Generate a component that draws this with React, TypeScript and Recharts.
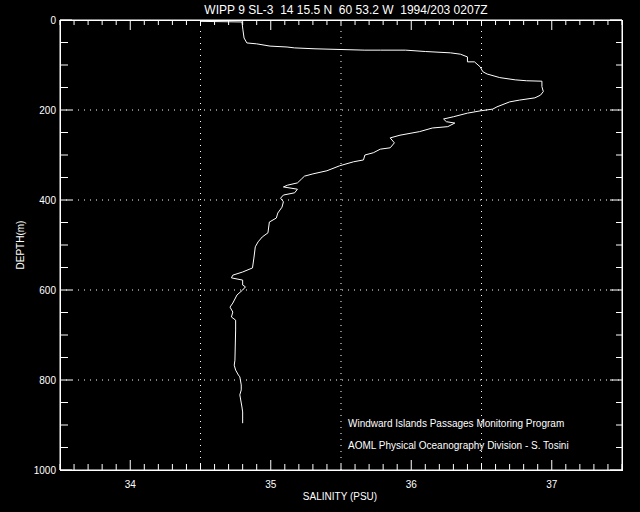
import React from 'react';
import {
  ScatterChart,
  Scatter,
  XAxis,
  YAxis,
  ReferenceLine,
} from 'recharts';

// CTD salinity profile
const salinity = [
  34.50, 34.795, 34.802, 34.81, 34.83, 34.90, 34.995, 35.116, 35.17, 35.315,
  35.67, 35.78, 35.96, 36.10, 36.28, 36.35, 36.40, 36.40, 36.45, 36.49,
  36.51, 36.54, 36.63, 36.74, 36.82, 36.93, 36.93, 36.94, 36.92, 36.88,
  36.77, 36.70, 36.61, 36.58, 36.49, 36.40, 36.30, 36.23, 36.25, 36.31,
  36.26, 36.15, 36.06, 35.92, 35.85, 35.88, 35.85, 35.78, 35.73, 35.67,
  35.66, 35.59, 35.49, 35.40, 35.30, 35.24, 35.22, 35.19, 35.12, 35.09,
  35.19, 35.17, 35.09, 35.07, 35.09, 35.08, 35.05, 35.04, 34.99, 34.98,
  34.94, 34.91, 34.89, 34.88, 34.87, 34.80, 34.73, 34.72, 34.80, 34.80,
  34.82, 34.80, 34.76, 34.73, 34.71, 34.73, 34.72, 34.75, 34.75, 34.745,
  34.74, 34.75, 34.77, 34.78, 34.79, 34.79, 34.78, 34.795, 34.80, 34.80,
];
const depth = [
  3, 4.4, 22, 40, 51, 53, 58, 60, 62, 64,
  67, 67, 67, 70, 73, 76, 82, 93, 93, 104,
  115, 120, 128, 133, 135, 136, 148, 159, 167, 173,
  178, 182, 193, 198, 202, 207, 215, 220, 226, 229,
  237, 240, 248, 256, 262, 273, 284, 287, 295, 300,
  311, 315, 324, 335, 342, 347, 353, 362, 367, 371,
  376, 384, 389, 396, 404, 416, 429, 440, 449, 473,
  482, 493, 504, 529, 551, 560, 567, 573, 578, 589,
  593, 600, 611, 629, 638, 649, 660, 667, 689, 756,
  767, 778, 789, 793, 811, 822, 833, 860, 871, 896,
];

const salTicks = Array.from({ length: 41 }, (_, i) => Math.round((33.5 + i * 0.1) * 10) / 10);
const salLabels = [34, 35, 36, 37];
const depthTicks = Array.from({ length: 21 }, (_, i) => i * 50);
const depthLabels = [0, 200, 400, 600, 800, 1000];
const salGrid = [34.5, 35.5, 36.5];
const depthGrid = [200, 400, 600, 800];

const profile = salinity.map((s, i) => ({ sal: s, depth: depth[i] }));

const FONT = '"Liberation Sans", Arial, sans-serif';
const WHITE = '#ffffff';
const SAL_DOMAIN = [33.5, 37.5];
const DEPTH_DOMAIN = [0, 1000];

// plot box: left 60, top 20, 562 x 450
const PLOT_X = 60;
const PLOT_Y = 20;
const PLOT_W = 562;
const PLOT_H = 450;

const isLabel = (list: number[], v: number) => list.some((l) => Math.abs(l - v) < 1e-6);

// bottom ticks also mirrored onto the top edge of the frame
const BottomTick = (props: any) => {
  const { x, y, payload } = props;
  const major = isLabel(salLabels, payload.value);
  const top = y - PLOT_H;
  return (
    <g>
      <line x1={x} y1={y} x2={x} y2={y - (major ? 10 : 6)} stroke={WHITE} />
      <line x1={x} y1={top} x2={x} y2={top + (major ? 10 : 5)} stroke={WHITE} />
      {major && (
        <text x={x} y={y + 18} fill={WHITE} textAnchor="middle" fontSize={10} fontFamily={FONT}>
          {payload.value}
        </text>
      )}
    </g>
  );
};

// left ticks also mirrored onto the right edge of the frame
const LeftTick = (props: any) => {
  const { x, y, payload } = props;
  const major = isLabel(depthLabels, payload.value);
  const right = x + PLOT_W;
  return (
    <g>
      <line x1={x} y1={y} x2={x + (major ? 12 : 8)} y2={y} stroke={WHITE} />
      <line x1={right} y1={y} x2={right - (major ? 12 : 6)} y2={y} stroke={WHITE} />
      {major && (
        <text x={x - 4} y={y + 4} fill={WHITE} textAnchor="end" fontSize={10} fontFamily={FONT}>
          {payload.value}
        </text>
      )}
    </g>
  );
};

const NoDot = () => <g />;

const layer: React.CSSProperties = { position: 'absolute', left: 0, top: 0 };

export default function App() {
  return (
    <div style={{ ...layer, width: 640, height: 512, background: '#000' }}>
      <div style={layer}>
        <ScatterChart width={640} height={512} margin={{ top: 20, right: 18, bottom: 0, left: 0 }}>
          <XAxis
            type="number"
            dataKey="sal"
            domain={SAL_DOMAIN}
            allowDataOverflow
            ticks={salTicks}
            interval={0}
            tickSize={0}
            tickMargin={0}
            tickLine={false}
            tick={<BottomTick />}
            axisLine={{ stroke: WHITE }}
            height={42}
          />
          <YAxis
            type="number"
            dataKey="depth"
            domain={DEPTH_DOMAIN}
            reversed
            allowDataOverflow
            ticks={depthTicks}
            interval={0}
            tickSize={0}
            tickMargin={0}
            tickLine={false}
            tick={<LeftTick />}
            axisLine={{ stroke: WHITE }}
            width={60}
          />
          {salGrid.map((v) => (
            <ReferenceLine key={`x${v}`} x={v} stroke={WHITE} strokeDasharray="1 5" />
          ))}
          {depthGrid.map((v) => (
            <ReferenceLine key={`y${v}`} y={v} stroke={WHITE} strokeDasharray="1 5" />
          ))}
          <ReferenceLine y={DEPTH_DOMAIN[0]} stroke={WHITE} ifOverflow="visible" />
          <ReferenceLine x={SAL_DOMAIN[1]} stroke={WHITE} ifOverflow="visible" />
          <Scatter
            data={profile}
            fill="none"
            line={{ stroke: WHITE, strokeWidth: 1 }}
            lineType="joint"
            shape={<NoDot />}
            isAnimationActive={false}
          />
        </ScatterChart>
      </div>
      <svg
        width={640}
        height={512}
        style={{ ...layer, pointerEvents: 'none' }}
        fontFamily={FONT}
      >
        {/* plot frame */}
        <rect
          x={PLOT_X + 0.5}
          y={PLOT_Y + 0.5}
          width={PLOT_W}
          height={PLOT_H}
          fill="none"
          stroke={WHITE}
          strokeWidth={1}
        />
        <g fill={WHITE}>
          <text x={346} y={14} textAnchor="middle" fontSize={12} style={{ whiteSpace: 'pre' }}>
            {'WIPP 9 SL-3  14 15.5 N  60 53.2 W  1994/203 0207Z'}
          </text>
          <text x={340} y={500} textAnchor="middle" fontSize={10}>
            SALINITY (PSU)
          </text>
          <text x={24} y={245} textAnchor="middle" fontSize={10} transform="rotate(-90 24 245)">
            DEPTH(m)
          </text>
          <text x={348} y={427} fontSize={10}>
            Windward Islands Passages Monitoring Program
          </text>
          <text x={348} y={449} fontSize={10}>
            AOML Physical Oceanography Division - S. Tosini
          </text>
        </g>
      </svg>
    </div>
  );
}
